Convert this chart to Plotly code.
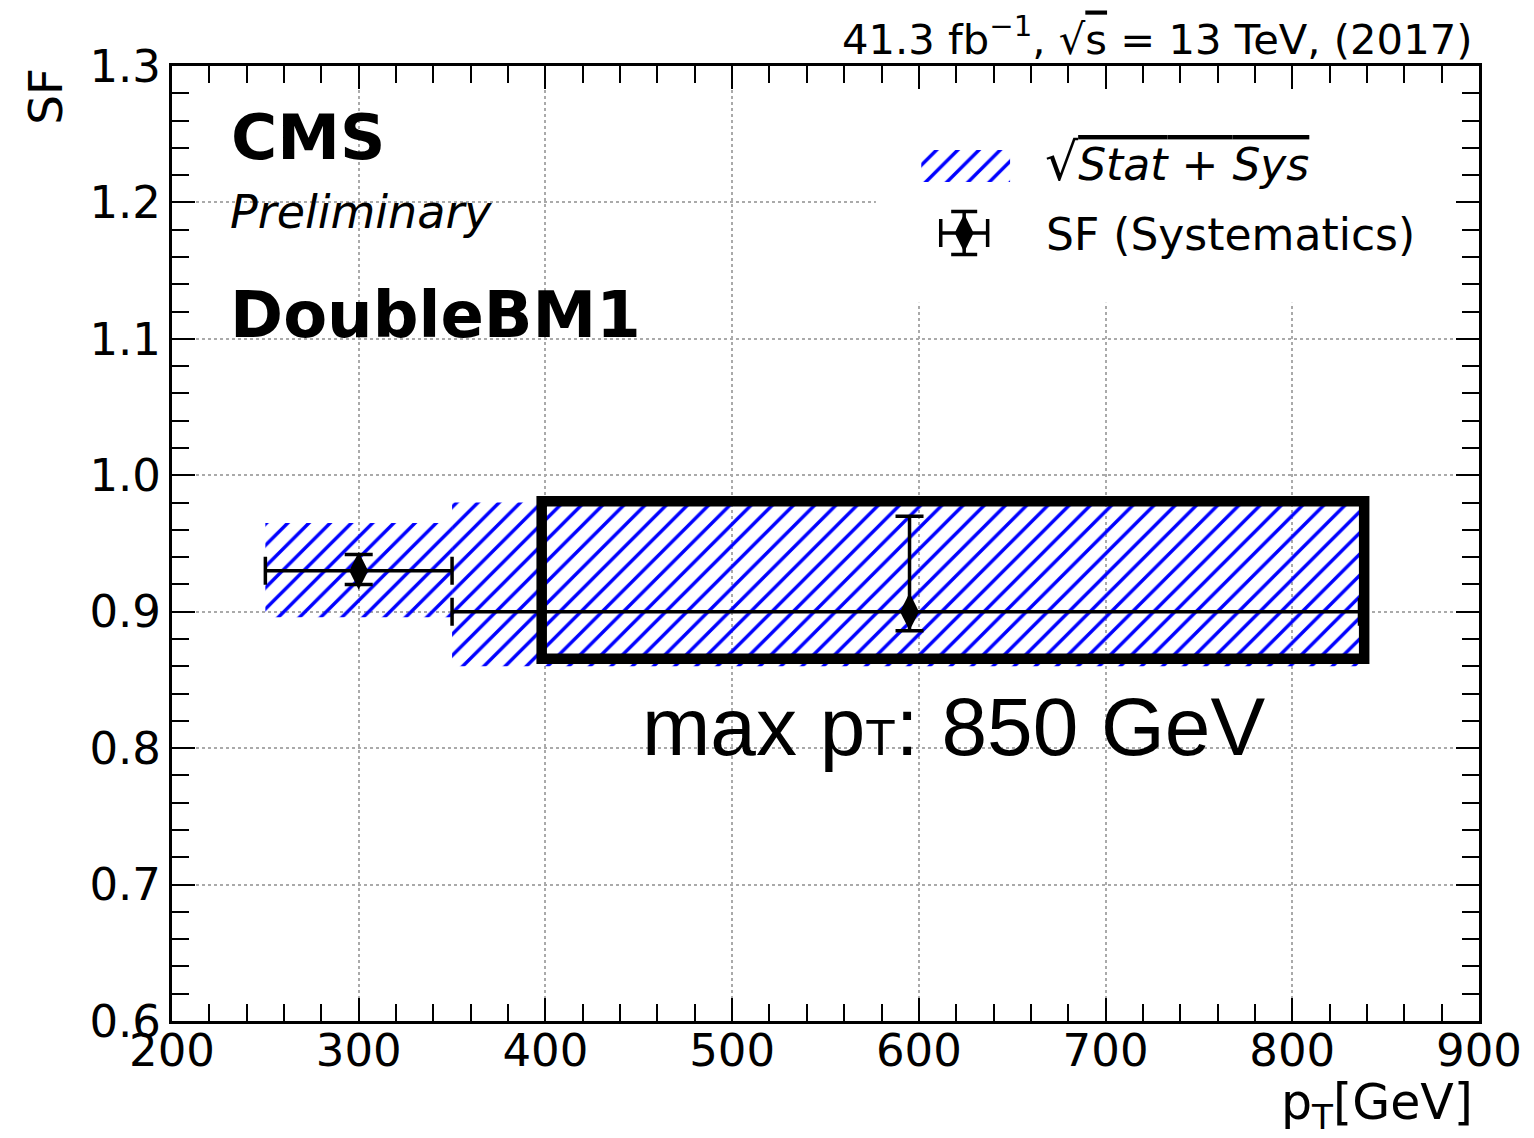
import plotly.graph_objects as go

# ---------------- data ----------------
bin_lo = [250, 350]
bin_hi = [350, 836]
band_lo = [0.896, 0.860]      # sqrt(stat+sys) band
band_hi = [0.965, 0.980]
sf_x = [300, 595]
sf_y = [0.930, 0.900]
sf_err_up = [0.012, 0.070]
sf_err_dn = [0.010, 0.014]
sf_xerr_right = [50, 241]
sf_xerr_left = [50, 245]
box_x = [398, 838.5]          # highlighted rectangle
box_y = [0.8656, 0.981]
xticks = [200, 300, 400, 500, 600, 700, 800, 900]
yticks = [0.6, 0.7, 0.8, 0.9, 1.0, 1.1, 1.2, 1.3]

W, H = 1534, 1138
ML, MR, MT, MB = 172, 52, 66, 117
PW, PH = W - ML - MR, H - MT - MB


def px(x):
    return (x - ML) / PW


def py(y):
    return (H - MB - y) / PH


BLUE = "#0000ff"
DV = "DejaVu Sans"
HATCH = dict(shape="/", fgcolor=BLUE, bgcolor="rgba(0,0,0,0)", fgopacity=1,
             size=15, solidity=0.23, fillmode="overlay")

fig = go.Figure()

# hatched uncertainty band
fig.add_trace(go.Bar(
    x=[(a + b) / 2 for a, b in zip(bin_lo, bin_hi)],
    width=[b - a for a, b in zip(bin_lo, bin_hi)],
    base=band_lo,
    y=[h - l for h, l in zip(band_hi, band_lo)],
    marker=dict(color="rgba(0,0,0,0)", opacity=1, line=dict(width=0), pattern=HATCH),
    opacity=1,
    showlegend=False, hoverinfo="skip",
))

# SF points with error bars
fig.add_trace(go.Scatter(
    x=sf_x, y=sf_y, mode="markers",
    marker=dict(symbol="diamond-tall", size=27, color="black"),
    error_y=dict(type="data", symmetric=False, array=sf_err_up, arrayminus=sf_err_dn,
                 color="black", thickness=3.5, width=14),
    error_x=dict(type="data", symmetric=False, array=sf_xerr_right, arrayminus=sf_xerr_left,
                 color="black", thickness=3.5, width=14),
    showlegend=False, hoverinfo="skip",
))

# ---------- legend drawn on pixel-space overlay axes ----------
leg_patch_x = [967.5]
leg_patch_w = [89]
leg_patch_base = [150]
leg_patch_h = [32]
leg_mark_x = [966]
leg_mark_y = [233]
fig.add_trace(go.Bar(
    x=leg_patch_x, width=leg_patch_w, base=leg_patch_base, y=leg_patch_h,
    xaxis="x2", yaxis="y2",
    marker=dict(color="rgba(0,0,0,0)", opacity=1, line=dict(width=0), pattern=HATCH),
    opacity=1,
    showlegend=False, hoverinfo="skip",
))
fig.add_trace(go.Scatter(
    x=leg_mark_x, y=leg_mark_y, mode="markers", xaxis="x2", yaxis="y2",
    marker=dict(symbol="diamond-tall", size=27, color="black"),
    error_y=dict(type="constant", value=21.5, color="black", thickness=3.5, width=13),
    error_x=dict(type="constant", value=23.5, color="black", thickness=3.5, width=14),
    showlegend=False, hoverinfo="skip",
))

axis_common = dict(
    showline=True, linecolor="black", linewidth=3, mirror="ticks",
    ticks="inside", ticklen=23, tickwidth=2, tickcolor="black",
    showgrid=True, gridcolor="#aaaaaa", griddash="dot", gridwidth=2,
    zeroline=False,
    tickfont=dict(family=DV, size=45, color="black"),
)

fig.update_layout(
    width=W, height=H,
    margin=dict(l=ML, r=MR, t=MT, b=MB),
    paper_bgcolor="white", plot_bgcolor="white",
    barmode="overlay",
    showlegend=False,
    xaxis=dict(range=[200, 900], tickvals=xticks, ticktext=[str(v) for v in xticks],
               minor=dict(dtick=20, ticks="inside", ticklen=17, tickwidth=2, tickcolor="black",
                          showgrid=False),
               ticklabelstandoff=-12, **axis_common),
    yaxis=dict(range=[0.6, 1.3], tickvals=yticks, ticktext=[f"{v:.1f}" for v in yticks],
               minor=dict(dtick=0.02, ticks="inside", ticklen=17, tickwidth=2, tickcolor="black",
                          showgrid=False),
               ticklabelstandoff=-1, **axis_common),
    xaxis2=dict(overlaying="x", range=[ML, ML + PW], visible=False, fixedrange=True),
    yaxis2=dict(overlaying="y", range=[H - MB, MT], visible=False, fixedrange=True),
)

# white legend background
fig.add_shape(type="rect", xref="x", yref="y", x0=577, x1=900, y0=1.1264, y1=1.3,
              fillcolor="white", line=dict(width=0), layer="between")

# highlighted box
fig.add_shape(type="rect", xref="x", yref="y", x0=box_x[0], x1=box_x[1], y0=box_y[0], y1=box_y[1],
              line=dict(color="black", width=10.5), fillcolor="rgba(0,0,0,0)", layer="above")

ann = []
ann.append(dict(text="<b>CMS</b>", x=px(229), y=py(137.5), xanchor="left", yanchor="middle",
                font=dict(family=DV, size=63, color="black")))
ann.append(dict(text="<i>Preliminary</i>", x=px(228), y=py(212), xanchor="left", yanchor="middle",
                font=dict(family=DV, size=46, color="black")))
ann.append(dict(text="<b>DoubleBM1</b>", x=px(228), y=py(315), xanchor="left", yanchor="middle",
                font=dict(family=DV, size=64, color="black")))
ann.append(dict(text="41.3 fb<sup>−1</sup>, √<span style='text-decoration:overline'>s</span> = 13 TeV, (2017)",
                x=px(1477), y=py(36), xanchor="right", yanchor="middle",
                font=dict(family=DV, size=41.7, color="black")))
ann.append(dict(text="<span style='font-size:52px'>√</span><span style='text-decoration:overline'><i>Stat</i> + <i>Sys</i></span>",
                x=px(1045), y=py(162), xanchor="left", yanchor="middle",
                font=dict(family=DV, size=44, color="black")))
ann.append(dict(text="SF (Systematics)", x=px(1046), y=py(234), xanchor="left", yanchor="middle",
                font=dict(family=DV, size=44, color="black")))
ann.append(dict(text="SF", x=px(45), y=py(66), xanchor="center", yanchor="top", textangle=-90,
                font=dict(family=DV, size=47, color="black")))
ann.append(dict(text="p<sub>T</sub>[GeV]", x=px(1478), y=py(1105), xanchor="right", yanchor="middle",
                font=dict(family=DV, size=49, color="black")))
ann.append(dict(text="max p<span style='font-size:50px'>T</span>: 850 GeV", x=px(641), y=py(727),
                xanchor="left", yanchor="middle",
                font=dict(family="Liberation Sans", size=82, color="black")))
for a in ann:
    a.update(xref="paper", yref="paper", showarrow=False)
fig.update_layout(annotations=ann)

fig.write_html("out.html")
